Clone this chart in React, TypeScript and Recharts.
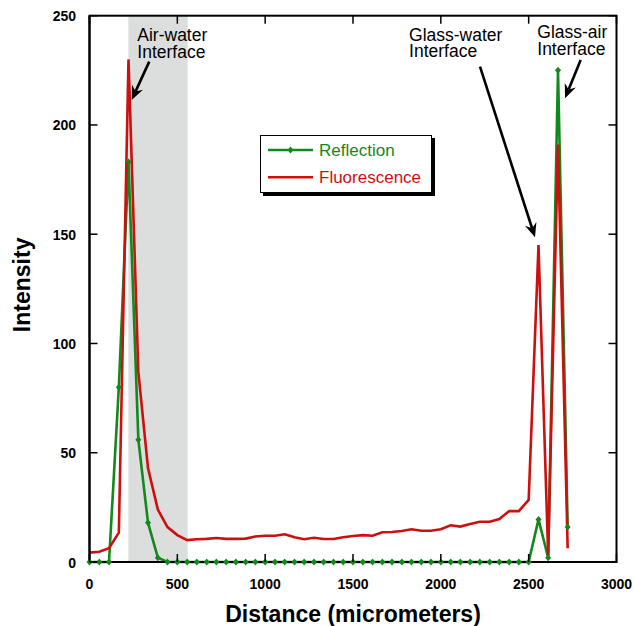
import React from 'react';
import { LineChart, Line, XAxis, YAxis, ReferenceArea, ReferenceLine, ReferenceDot, Legend } from 'recharts';

const FONT = '"Liberation Sans", Arial, Helvetica, sans-serif';
const GREEN = '#12891c';
const RED = '#cc1010';
const PLOT_TOP = 15.7;

const distance = [0, 56, 111, 167, 222, 278, 333, 389, 444, 500, 556, 611, 667, 722, 778, 833, 889, 944, 1000, 1056, 1111, 1167, 1222, 1278, 1333, 1389, 1444, 1500, 1556, 1611, 1667, 1722, 1778, 1833, 1889, 1944, 2000, 2056, 2111, 2167, 2222, 2278, 2333, 2389, 2444, 2500, 2556, 2611, 2667, 2722];
const reflection = [0, 0, 0, 80, 183, 56, 18, 2, 0, 0, 0, 0, 0, 0, 0, 0, 0, 0, 0, 0, 0, 0, 0, 0, 0, 0, 0, 0, 0, 0, 0, 0, 0, 0, 0, 0, 0, 0, 0, 0, 0, 0, 0, 0, 0, 0, 19.5, 2, 225, 16];
const fluorescence = [4.3, 4.7, 6.3, 13.4, 230, 87, 43, 24, 16, 12.3, 10, 10.4, 10.6, 11, 10.6, 10.6, 10.7, 11.7, 12, 12, 12.7, 11.3, 10.4, 11.1, 10.5, 10.5, 11.3, 11.9, 12.3, 12, 13.6, 13.7, 14.2, 15, 14.3, 14.3, 15, 16.8, 16.2, 17.4, 18.4, 18.4, 19.7, 23.3, 23.3, 28.4, 145, 3, 191, 6.3];

const xTicks = [0, 500, 1000, 1500, 2000, 2500, 3000];
const yTicks = [0, 50, 100, 150, 200, 250];
const xMax = 3000;
const yMax = 250;
const seriesNames = ['Reflection', 'Fluorescence'];
const shadedFrom = 221;
const shadedTo = 559;

const annotationLines = [['Air-water', 'Interface'], ['Glass-water', 'Interface'], ['Glass-air', 'Interface']];
const annotationTextAt = [[272, 238.4], [1819, 238.6], [2549, 239.7]];
const arrowFrom = [[340, 229], [2223, 226.7], [2796, 229.7]];
const arrowTo = [[240, 211.4], [2536, 148.6], [2707, 212.2]];

const data = distance.map((d, i) => ({ distance: d, reflection: reflection[i], fluorescence: fluorescence[i] }));

const Diamond = (props: any) => {
  const { cx, cy } = props;
  if (cx == null || cy == null) return null;
  return <polygon points={`${cx},${cy - 3.5} ${cx + 3},${cy} ${cx},${cy + 3.5} ${cx - 3},${cy}`} fill={GREEN} />;
};

const BottomTick = (props: any) => {
  const { x, y, payload } = props;
  return (
    <g>
      <line x1={x} y1={y} x2={x} y2={y - 8} stroke="#000" strokeWidth={1.5} />
      <text x={x} y={y + 26.5} textAnchor="middle" fontFamily={FONT} fontWeight="bold" fontSize={14} fill="#000">{payload.value}</text>
    </g>
  );
};
const LeftTick = (props: any) => {
  const { x, y, payload } = props;
  return (
    <g>
      <line x1={x} y1={y} x2={x + 8} y2={y} stroke="#000" strokeWidth={1.5} />
      <text x={x - 13.5} y={y + 5.5} textAnchor="end" fontFamily={FONT} fontWeight="bold" fontSize={14} fill="#000">{payload.value}</text>
    </g>
  );
};
const TopTickShape = (props: any) => {
  const { x1, y1 } = props;
  if (x1 == null || y1 == null) return null;
  return <line x1={x1} y1={y1} x2={x1} y2={y1 + 8} stroke="#000" strokeWidth={1.5} />;
};
const RightTickShape = (props: any) => {
  const { x1, y1 } = props;
  if (x1 == null || y1 == null) return null;
  return <line x1={x1} y1={y1} x2={x1 - 8} y2={y1} stroke="#000" strokeWidth={1.5} />;
};

const XTitle = (props: any) => {
  const vb = props.viewBox || {};
  return (
    <g>
      <rect x={vb.x} y={PLOT_TOP} width={vb.width} height={vb.y - PLOT_TOP} fill="none" stroke="#000" strokeWidth={2} />
      <text x={vb.x + vb.width / 2} y={vb.y + 60} textAnchor="middle" fontFamily={FONT} fontWeight="bold" fontSize={23} fill="#000">
        Distance (micrometers)
      </text>
    </g>
  );
};
const YTitle = (props: any) => {
  const vb = props.viewBox || {};
  const cx = vb.x + 30;
  const cy = vb.y + vb.height / 2 - 4;
  return (
    <text x={cx} y={cy} transform={`rotate(-90, ${cx}, ${cy})`} textAnchor="middle" fontFamily={FONT} fontWeight="bold" fontSize={23} fill="#000">
      Intensity
    </text>
  );
};

const Arrow = (props: any) => {
  const { x1, y1, x2, y2 } = props;
  if ([x1, y1, x2, y2].some((v) => v == null)) return null;
  const dx = x2 - x1;
  const dy = y2 - y1;
  const len = Math.sqrt(dx * dx + dy * dy) || 1;
  const ux = dx / len;
  const uy = dy / len;
  const nx = -uy;
  const ny = ux;
  const L = 14;
  const W = 6;
  const notch = 4.5;
  const bx = x2 - L * ux;
  const by = y2 - L * uy;
  const mx = x2 - (L - notch) * ux;
  const my = y2 - (L - notch) * uy;
  return (
    <g>
      <line x1={x1} y1={y1} x2={mx} y2={my} stroke="#000" strokeWidth={2.6} />
      <polygon points={`${x2},${y2} ${bx + W * nx},${by + W * ny} ${mx},${my} ${bx - W * nx},${by - W * ny}`} fill="#000" />
    </g>
  );
};

const makeTextShape = (line: string) => (props: any) => {
  const { cx, cy } = props;
  return (
    <text x={cx} y={cy} fontFamily={FONT} fontSize={17.5} fill="#000">{line}</text>
  );
};

const LegendBox = () => (
  <div style={{ width: 172, height: 58, border: '1.5px solid #000', boxShadow: '3px 3px 0 #000', background: '#fff', boxSizing: 'border-box', position: 'relative' }}>
    <svg width={172} height={58} style={{ position: 'absolute', left: -1.5, top: -1.5 }}>
      <line x1={8} y1={15} x2={53} y2={15} stroke={GREEN} strokeWidth={2.5} />
      <Diamond cx={30.5} cy={15} />
      <text x={59} y={21} fill={GREEN} fontFamily={FONT} fontSize={17}>{seriesNames[0]}</text>
      <line x1={8} y1={42.3} x2={53} y2={42.3} stroke={RED} strokeWidth={2.5} />
      <text x={59} y={48.3} fill={RED} fontFamily={FONT} fontSize={17}>{seriesNames[1]}</text>
    </svg>
  </div>
);

export default function App() {
  return (
    <div style={{ width: 634, height: 626, overflow: 'hidden' }}>
      <style>{'html,body{margin:0;padding:0;overflow:hidden;}'}</style>
      <LineChart width={634} height={626} data={data} margin={{ top: PLOT_TOP, right: 17.5, left: 0, bottom: 0 }}>
        <ReferenceArea x1={shadedFrom} x2={shadedTo} y1={0} y2={yMax} fill="#dcdddd" fillOpacity={1} stroke="none" />
        <XAxis
          dataKey="distance"
          type="number"
          domain={[0, xMax]}
          ticks={xTicks}
          height={64}
          tickSize={0}
          tickMargin={0}
          tick={<BottomTick />}
          axisLine={{ stroke: '#000', strokeWidth: 2 }}
          interval={0}
          label={<XTitle />}
        />
        <YAxis
          type="number"
          domain={[0, yMax]}
          ticks={yTicks}
          width={89.5}
          tickSize={0}
          tickMargin={0}
          tick={<LeftTick />}
          axisLine={{ stroke: '#000', strokeWidth: 2 }}
          interval={0}
          label={<YTitle />}
        />
        {xTicks.map((v) => (
          <ReferenceLine key={`tt${v}`} segment={[{ x: v, y: yMax }, { x: v, y: yMax }]} ifOverflow="visible" shape={<TopTickShape />} />
        ))}
        {yTicks.map((v) => (
          <ReferenceLine key={`rt${v}`} segment={[{ x: xMax, y: v }, { x: xMax, y: v }]} ifOverflow="visible" shape={<RightTickShape />} />
        ))}
        <Line
          type="linear"
          dataKey="reflection"
          name={seriesNames[0]}
          stroke={GREEN}
          strokeWidth={2.6}
          dot={(p: any) => <Diamond key={`d${p.index}`} cx={p.cx} cy={p.cy} />}
          activeDot={false}
          isAnimationActive={false}
        />
        <Line
          type="linear"
          dataKey="fluorescence"
          name={seriesNames[1]}
          stroke={RED}
          strokeWidth={2.6}
          dot={false}
          activeDot={false}
          isAnimationActive={false}
        />
        {arrowFrom.map((f, i) => (
          <ReferenceLine
            key={`arrow${i}`}
            segment={[{ x: f[0], y: f[1] }, { x: arrowTo[i][0], y: arrowTo[i][1] }]}
            ifOverflow="visible"
            shape={<Arrow />}
          />
        ))}
        {annotationTextAt.map((t, i) => (
          <ReferenceDot key={`txta${i}`} x={t[0]} y={t[1]} r={0} ifOverflow="visible" shape={makeTextShape(annotationLines[i][0])} />
        ))}
        {annotationTextAt.map((t, i) => (
          <ReferenceDot key={`txtb${i}`} x={t[0]} y={t[1] - 7.7} r={0} ifOverflow="visible" shape={makeTextShape(annotationLines[i][1])} />
        ))}
        <Legend
          layout="horizontal"
          verticalAlign="middle"
          align="center"
          content={<LegendBox />}
          wrapperStyle={{ position: 'absolute', left: 260, top: 135, width: 172, height: 58 }}
        />
      </LineChart>
    </div>
  );
}
